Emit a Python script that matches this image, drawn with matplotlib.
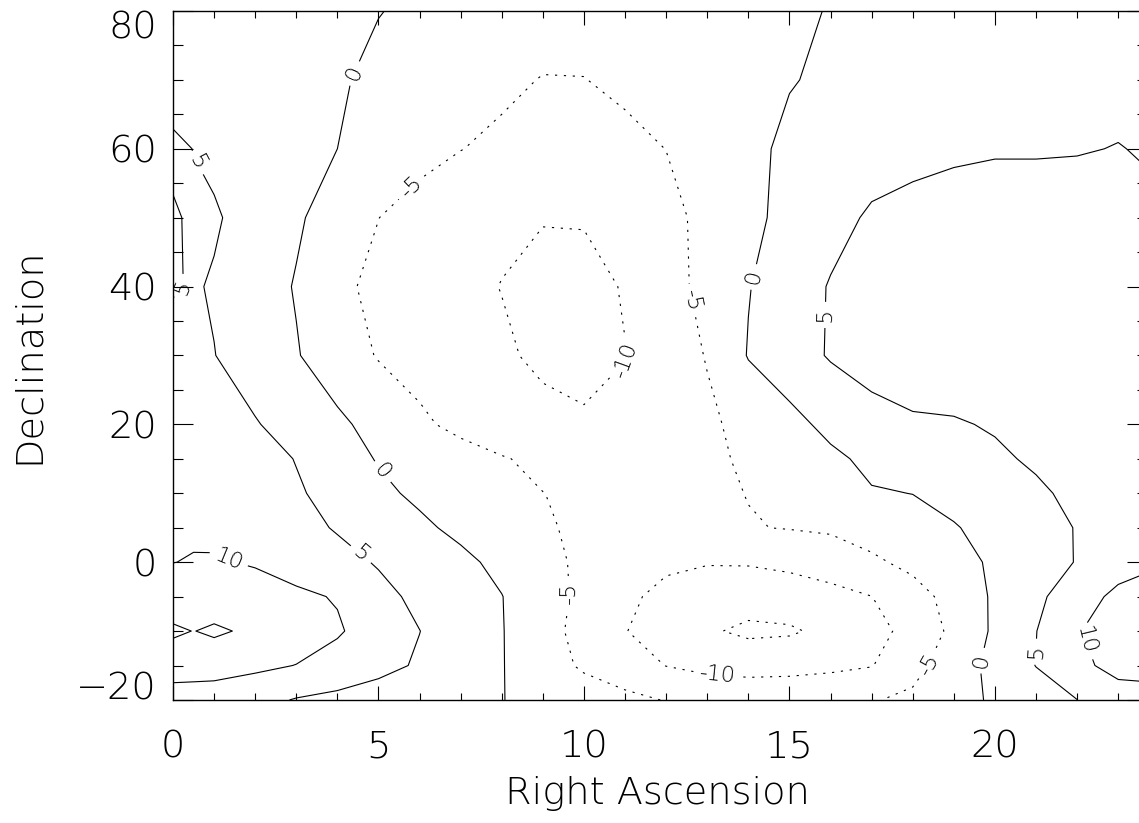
import numpy as np
import matplotlib.pyplot as plt
from matplotlib.ticker import MultipleLocator

plt.rcParams['font.family'] = ['DejaVu Sans']
plt.rcParams['font.weight'] = 200
plt.rcParams['axes.labelweight'] = 200

# grid of the map (RA in hours, Dec in degrees)
ra = [0, 0.5, 1, 2, 3, 4, 5, 6, 7, 8, 9, 10, 11, 12, 13, 14, 15, 16, 17, 18,
      19, 20, 21, 22, 23, 24]
dec = [-20, -15, -10, -5, 0, 5, 10, 15, 20, 30, 40, 50, 60, 70, 80]

# values read row by row (one list per declination)
z_m20 = [8.0, 8.0, 8.0, 6.5, 4.7, 3.8, 2.9, 2.0, 1.0, 0.1, -1.2, -2.5, -3.8, -5.2,
         -5.6, -5.8, -5.6, -5.5, -5.3, -4.1, -1.7, 0.65, 2.8, 4.95, 7.8, 9.0]
z_m15 = [12.0, 11.8, 11.6, 11.0, 9.9, 8.2, 6.3, 4.5, 2.3, 0.2, -2.8, -5.7, -7.9, -10.1,
         -11.5, -12.2, -12.0, -11.2, -10.2, -6.5, -2.5, 1.4, 5.1, 8.85, 11.5, 11.0]
z_m10 = [15.8, 14.9, 15.8, 14.0, 12.5, 10.5, 7.7, 5.05, 2.6, 0.2, -3.2, -6.6, -9.8, -12.8,
         -14.5, -15.8, -15.5, -14.0, -12.0, -8.1, -4.0, 0.8, 4.9, 9.6, 13.0, 13.5]
z_m5 = [12.0, 12.2, 12.0, 11.5, 10.8, 9.7, 6.4, 3.9, 2.0, 0.1, -3.0, -6.1, -8.9, -11.5,
        -12.8, -13.2, -12.8, -11.6, -10.05, -6.9, -3.3, 0.7, 4.0, 7.7, 11.2, 12.0]
z_0 = [9.95, 10.2, 10.3, 9.7, 8.2, 6.6, 4.6, 2.8, 1.0, -1.1, -3.5, -6.0, -7.8, -9.0,
       -9.7, -9.6, -8.8, -7.5, -5.8, -3.8, -1.6, 0.7, 3.0, 5.2, 7.8, 9.6]
z_5 = [9.7, 9.5, 9.2, 8.2, 6.6, 4.6, 2.7, 0.8, -1.0, -2.7, -4.4, -6.0, -6.8, -7.0,
       -6.6, -5.2, -4.8, -4.4, -3.0, -1.5, -0.3, 1.5, 3.3, 5.2, 7.0, 8.5]
z_10 = [9.5, 9.2, 8.9, 7.5, 5.6, 3.2, 0.9, -0.8, -2.2, -3.6, -4.95, -5.8, -6.2, -6.2,
        -5.8, -4.9, -3.0, -1.6, -0.3, 0.05, 1.4, 2.9, 4.3, 6.0, 7.5, 8.5]
z_15 = [9.0, 8.6, 8.2, 7.2, 4.8, 2.1, -0.3, -1.8, -3.2, -4.7, -6.0, -6.8, -7.0, -6.6,
        -5.8, -4.4, -2.6, -0.9, 1.0, 1.8, 3.0, 4.3, 5.6, 6.8, 7.6, 8.2]
z_20 = [8.5, 8.0, 7.5, 5.3, 3.1, 0.9, -1.6, -4.2, -6.2, -7.8, -8.8, -9.6, -9.0, -7.5,
        -5.8, -3.6, -1.4, 1.2, 3.4, 4.4, 4.6, 5.4, 6.5, 7.3, 7.8, 8.2]
z_30 = [7.0, 6.0, 5.1, 2.7, 0.3, -2.6, -5.3, -6.7, -8.1, -9.4, -10.8, -11.0, -10.1, -7.5,
        -4.75, 0.25, 2.8, 5.4, 6.8, 7.6, 8.0, 8.2, 8.3, 8.3, 8.2, 8.0]
z_40 = [4.6, 5.4, 4.6, 2.2, -0.3, -3.9, -6.2, -7.7, -8.9, -10.1, -11.3, -11.4, -9.7, -6.8,
        -3.6, -0.2, 2.6, 5.3, 6.6, 7.3, 7.7, 7.9, 8.0, 8.0, 7.8, 7.0]
z_50 = [4.7, 5.4, 5.5, 3.1, 0.6, -2.1, -4.95, -7.0, -8.3, -9.2, -9.8, -9.7, -8.7, -6.5,
        -3.6, -1.1, 1.3, 3.5, 5.6, 6.3, 6.6, 6.7, 6.7, 6.7, 6.5, 5.5]
z_60 = [5.6, 4.95, 4.0, 2.7, 1.3, 0.0, -1.7, -3.4, -4.9, -6.0, -6.8, -7.0, -6.3, -4.95,
        -3.0, -1.0, 0.8, 2.2, 3.0, 3.8, 4.4, 4.7, 4.7, 4.8, 5.1, 4.6]
z_70 = [3.5, 3.3, 3.1, 2.2, 1.3, 0.4, -0.8, -2.0, -3.0, -4.0, -5.2, -5.1, -4.0, -3.0,
        -2.0, -1.1, -0.2, 0.6, 1.4, 2.1, 2.7, 3.2, 3.5, 3.8, 4.0, 4.0]
z_80 = [3.5, 3.15, 2.8, 2.1, 1.5, 0.8, 0.1, -0.6, -1.3, -2.0, -2.6, -3.0, -3.0, -2.7,
        -2.1, -1.4, -0.6, 0.15, 0.8, 1.4, 1.9, 2.3, 2.7, 3.0, 3.3, 3.5]

label_levels = [-10, -5, 0, 5, 10]
extra_levels = [-15, 15]
y_ticks = [-20, 0, 20, 40, 60, 80]
y_ticklabels = ['\u221220', '0', '20', '40', '60', '80']

z = np.array([z_m20, z_m15, z_m10, z_m5, z_0, z_5, z_10, z_15, z_20,
              z_30, z_40, z_50, z_60, z_70, z_80])

fig = plt.figure(figsize=(11.39, 8.23), dpi=100)
ax = fig.add_axes([0.1519, 0.1495, 0.8551, 0.8372])

dot = (0, (2, 6))
cs = ax.contour(ra, dec, z, levels=label_levels, colors='k', linewidths=0.8,
                linestyles=[dot if l < 0 else 'solid' for l in label_levels])
ax.contour(ra, dec, z, levels=extra_levels, colors='k', linewidths=0.8,
           linestyles=[dot if l < 0 else 'solid' for l in extra_levels])

# label positions picked to sit where the original labels are
spots = [(4.5, 70.7), (4.95, 12.4), (14.2, 41.3), (19.6, -14.2),
         (0.6, 58.0), (0.33, 39.5), (4.55, 1), (15.75, 35.9), (21.0, -13),
         (5.5, 56.2), (12.65, 38), (9.6, -4.5), (18.4, -14.9),
         (11.05, 29.3), (13.25, -16.4),
         (1.4, 1), (22.1, -11.6)]
ax.clabel(cs, fmt='%d', fontsize=16, inline=True, inline_spacing=6,
          manual=spots)

ax.set_xlim(0, 23.7)
ax.set_ylim(-20, 80)
ax.xaxis.set_major_locator(MultipleLocator(5))
ax.xaxis.set_minor_locator(MultipleLocator(1))
ax.set_yticks(y_ticks)
ax.set_yticklabels(y_ticklabels)
ax.yaxis.set_minor_locator(MultipleLocator(5))
ax.tick_params(axis='both', which='both', direction='in', top=True, right=True,
               width=0.8, labelsize=27.5)
ax.tick_params(axis='x', which='major', length=10, pad=21)
ax.tick_params(axis='x', which='minor', length=5)
ax.tick_params(axis='y', which='major', length=14.2, pad=11.5)
ax.tick_params(axis='y', which='minor', length=7)
for s in ax.spines.values():
    s.set_linewidth(1.0)

# keep the end labels inside the axis span, as in the original
ylabs = ax.get_yticklabels()
ylabs[0].set_va('baseline')
ylabs[-1].set_va('top')

ax.set_xlabel('Right Ascension', fontsize=27.5)
ax.set_ylabel('Declination', fontsize=27.5)
ax.xaxis.set_label_coords(0.497, -0.111)
ax.yaxis.set_label_coords(-0.131, 0.5)

fig.savefig('out.png', dpi=100)
